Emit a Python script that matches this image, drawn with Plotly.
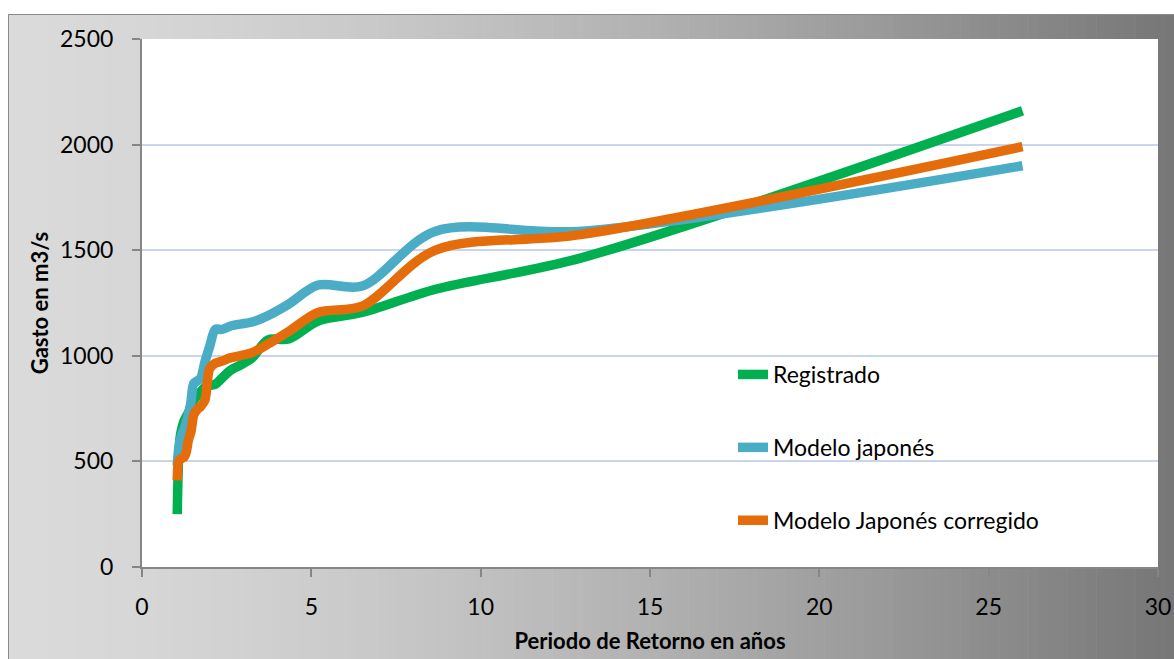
import plotly.graph_objects as go

# return period (years) for a 25-year record, T = (n+1)/m
periodo = [1.04, 1.083, 1.13, 1.182, 1.238, 1.3, 1.368, 1.444, 1.529, 1.625, 1.733, 1.857,
           2.0, 2.167, 2.364, 2.6, 2.889, 3.25, 3.714, 4.333, 5.2, 6.5, 8.667, 13.0, 26.0]

registrado = [250, 520, 620, 660, 690, 710, 730, 760, 790, 810, 830, 850,
              860, 865, 895, 930, 955, 990, 1075, 1080, 1165, 1205, 1315, 1465, 2160]

modelo_japones = [480, 560, 600, 630, 650, 680, 720, 780, 870, 880, 895, 970,
                  1045, 1125, 1125, 1140, 1150, 1160, 1190, 1245, 1335, 1330, 1590, 1590, 1900]

modelo_corregido = [410, 500, 510, 515, 520, 540, 600, 640, 720, 745, 760, 790,
                    940, 965, 975, 990, 1000, 1015, 1055, 1115, 1205, 1235, 1500, 1575, 1990]

series_names = ['Registrado', 'Modelo japonés', 'Modelo Japonés corregido']
series_colors = ['#00b050', '#4bacc6', '#e46c0a']

W, H = 1174, 659
L, R, T, B = 142, 16, 39, 92
pw, ph = W - L - R, H - T - B


def px_x(p):
    return (p - L) / pw


def px_y(p):
    return (H - B - p) / ph


fig = go.Figure()
for i, (name, ys) in enumerate(zip(series_names, [registrado, modelo_japones, modelo_corregido])):
    fig.add_trace(go.Scatter(
        x=periodo, y=ys, name=name, mode='lines',
        line=dict(color=series_colors[i], width=9.5, shape='spline', smoothing=0.9),
        legendgroup=str(i)
    ))

# grey gradient background of the chart box (Excel style)
shapes = []
n = 120
x_start, x_end = 8, W
for k in range(n):
    t = (k + 0.5) / n
    g = int(round(218 - 100 * t ** 1.5))
    col = f'rgb({g},{g},{g})'
    a = x_start + (x_end - x_start) * k / n
    b = x_start + (x_end - x_start) * (k + 1) / n + 0.6
    shapes.append(dict(type='rect', xref='paper', yref='paper', layer='below',
                       x0=px_x(a), x1=px_x(b), y0=px_y(H + 2), y1=px_y(14),
                       fillcolor=col, line=dict(width=0)))
# white plot area on top of the gradient
shapes.append(dict(type='rect', xref='paper', yref='paper', layer='below',
                   x0=0, x1=1, y0=0, y1=1, fillcolor='white', line=dict(width=0)))
# outer border
shapes.append(dict(type='rect', xref='paper', yref='paper', layer='below',
                   x0=px_x(8.5), x1=px_x(W + 5), y0=px_y(H + 5), y1=px_y(14.5),
                   fillcolor='rgba(0,0,0,0)', line=dict(color='#8a8a8a', width=1)))

font_fam = 'Lato, Open Sans, sans-serif'

fig.update_layout(
    width=W, height=H,
    autosize=False,
    margin=dict(l=L, r=R, t=T, b=B, autoexpand=False),
    paper_bgcolor='white',
    plot_bgcolor='white',
    shapes=shapes,
    font=dict(family=font_fam, color='black', size=23),
    showlegend=True,
    legend=dict(x=px_x(733), y=px_y(353), xanchor='left', yanchor='top',
                bgcolor='rgba(0,0,0,0)', font=dict(size=23),
                tracegroupgap=40, itemwidth=30),
    xaxis=dict(
        range=[0, 30], dtick=5, tick0=0, automargin=False,
        showgrid=False, zeroline=False,
        showline=True, linecolor='#868686', linewidth=2,
        ticks='outside', ticklen=8, tickcolor='#868686', tickwidth=2,
        ticklabelstandoff=10,
        tickfont=dict(size=23),
        title=dict(text='<b>Periodo de Retorno en años</b>', font=dict(size=22), standoff=15),
    ),
    yaxis=dict(
        range=[0, 2500], dtick=500, tick0=0, automargin=False,
        showgrid=True, gridcolor='#c9d5ec', gridwidth=2,
        zeroline=False,
        showline=True, linecolor='#868686', linewidth=2,
        ticks='outside', ticklen=8, tickcolor='#868686', tickwidth=2,
        ticklabelstandoff=14,
        tickfont=dict(size=23),
        title=dict(text='<b>Gasto en m3/s</b>', font=dict(size=22), standoff=5),
    ),
)

# drop the default 8px body margin so the figure fills the window exactly
fig.write_html("out.html",
               config={'displayModeBar': False},
               post_script="document.body.style.margin='0';document.body.style.overflow='hidden';")
